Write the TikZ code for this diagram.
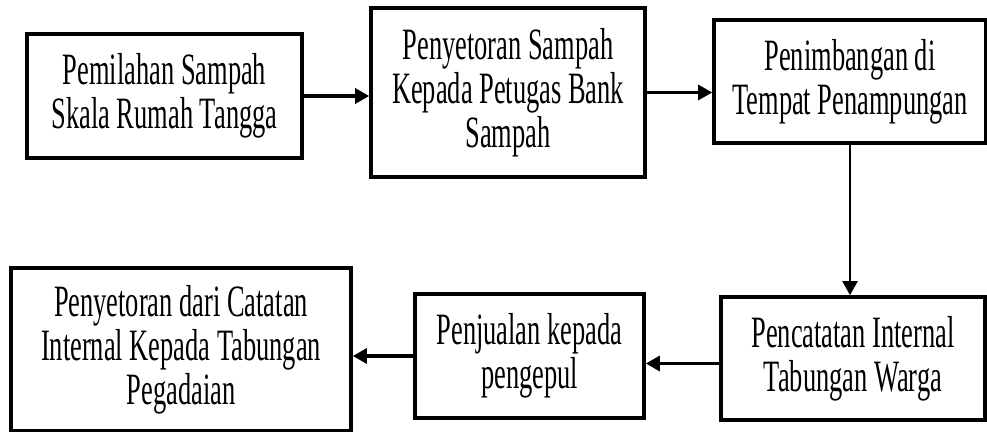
\documentclass[tikz,border=0pt]{standalone}
\usepackage{fontspec}
\setmainfont{Liberation Serif}[FakeStretch=0.59]
\usetikzlibrary{arrows.meta, positioning}

\begin{document}
\begin{tikzpicture}[
        x=0.02cm, y=-0.02cm,
        box/.style={rectangle, draw, line width=2.1pt, minimum width=5.5cm, minimum height=2.48cm, align=center, inner sep=2pt, font=\fontsize{25.5}{25}\selectfont},
        arrow/.style={-{Triangle[length=0.28cm, width=0.3cm]}, line width=1.8pt}
    ]
        \useasboundingbox (0,0) rectangle (987,432);

        \node[box] (pemilahan) at (164.5,96) {Pemilahan Sampah\\Skala Rumah Tangga};
        \node[box, minimum width=5.48cm, minimum height=3.38cm] (setor) at (508,92.5) {Penyetoran Sampah\\Kepada Petugas Bank\\Sampah};
        \node[box, minimum width=5.44cm, minimum height=2.46cm] (timbang) at (850,81.5) {Penimbangan di\\Tempat Penampungan};
        \node[box, minimum width=5.28cm, minimum height=2.46cm] (catat) at (853,358.5) {Pencatatan Internal\\Tabungan Warga};
        \node[box, minimum width=4.58cm] (jual) at (529.5,356) {Penjualan kepada\\pengepul};
        \node[box, minimum width=6.8cm, minimum height=3.26cm] (pegadaian) at (181,349.5) {Penyetoran dari Catatan\\Internal Kepada Tabungan\\Pegadaian};

        \draw[arrow] (pemilahan.east) -- (pemilahan.east -| setor.west);
        \draw[arrow] (setor.east) -- (setor.east -| timbang.west);
        \draw[arrow, line width=1.3pt] (timbang.south) -- (timbang.south |- catat.north);
        \draw[arrow] ([yshift=-0.1cm]catat.west) -- ([yshift=-0.1cm]catat.west -| jual.east);
        \draw[arrow] (jual.west) -- (jual.west -| pegadaian.east);
    \end{tikzpicture}
\end{document}
